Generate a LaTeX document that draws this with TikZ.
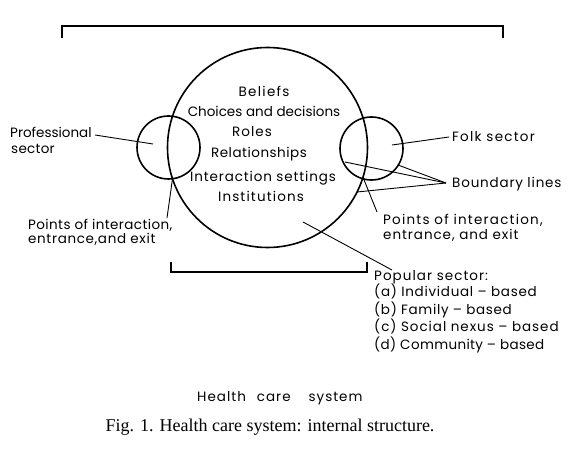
\documentclass[tikz,border=0pt]{standalone}
\usepackage{fontspec}
\setmainfont{Liberation Serif}
\newfontfamily\labfont{Poppins}
\begin{document}
\begin{tikzpicture}[x=1pt,y=-1pt,
  lab/.style={inner sep=0pt, font=\labfont\fontsize{13.5}{15}\selectfont\addfontfeature{LetterSpace=#1}},
  lab/.default=7,
  ring/.style={circle, draw, line width=1.6pt, inner sep=0pt},
  leader/.style={line width=0.9pt},
  brk/.style={line width=1.2pt}]
\useasboundingbox (0,0) rectangle (579,454);
% brackets
\coordinate (tl) at (62,38); \coordinate (tlc) at (62,26);
\coordinate (trc) at (503,26); \coordinate (tr) at (503,38);
\draw[brk] (tl) -- (tlc) -- (trc) -- (tr);
\coordinate (bl) at (171,262); \coordinate (blc) at (171,272);
\coordinate (brc) at (367,272); \coordinate (br) at (367,262);
\draw[brk] (bl) -- (blc) -- (brc) -- (br);
% circles
\node[ring, minimum size=200pt] (main) at (267.5,147.5) {};
\node[ring, minimum size=63pt] (prof) at (168.5,147.5) {};
\node[ring, minimum size=63pt] (folk) at (371.5,148.5) {};
% inner texts
\node[lab=9.6, anchor=base] (t1) at (264,97) {Beliefs};
\node[lab=0, anchor=base] (t2) at (264,117) {Choices and decisions};
\node[lab=8, anchor=base] (t3) at (252,137) {Roles};
\node[lab=3.7, anchor=base] (t4) at (259,158) {Relationships};
\node[lab=6.4, anchor=base] (t5) at (263,182) {Interaction settings};
\node[lab=8.4, anchor=base] (t6) at (261,202) {Institutions};
% left labels
\node[lab=0, anchor=base west] (pl1) at (10,138) {Professional};
\node[lab=2, anchor=base west] (pl2) at (11,154) {sector};
\node[lab=3, anchor=base west] (lp1) at (28,230) {Points of interaction,};
\node[lab=4.8, anchor=base west] (lp2) at (28,244) {entrance,and exit};
% right labels
\node[lab=9.2, anchor=base west] (fk) at (452,142) {Folk sector};
\node[lab=6.1, anchor=base west] (bd) at (452,188) {Boundary lines};
\node[lab=9, anchor=base west] (rp1) at (383,225) {Points of interaction,};
\node[lab=7, anchor=base west] (rp2) at (383,240) {entrance, and exit};
\node[lab=7.7, anchor=base west] (ps0) at (374,281) {Popular sector:};
\node[lab=5.3, anchor=base west] (ps1) at (374,297) {(a) Individual – based};
\node[lab=5, anchor=base west] (ps2) at (374,315) {(b) Family – based};
\node[lab=7, anchor=base west] (ps3) at (374,332) {(c) Social nexus – based};
\node[lab=2.6, anchor=base west] (ps4) at (374,350) {(d) Community – based};
% bottom texts
\node[lab=7.4, anchor=base west] (hcs) at (197,402) {Health\hspace{11pt}care\hspace{18pt}system};
\node[inner sep=0pt, anchor=base, font=\fontsize{18}{20}\selectfont] (cap) at (270,432) {Fig. 1. Health care system: internal structure.};
% leader coordinates
\coordinate (profA) at (95,135); \coordinate (profB) at (153,144);
\coordinate (lpA) at (167,218); \coordinate (lpB) at (172.5,178.7);
\coordinate (fkA) at (449,137); \coordinate (fkB) at (392,145);
\coordinate (bdA) at (446,183);
\coordinate (bd1) at (345,162); \coordinate (bd2) at (398,165); \coordinate (bd3) at (357,192);
\coordinate (rpA) at (377,212); \coordinate (rpB) at (363,177.3);
\coordinate (psA) at (392,270); \coordinate (psB) at (303,222);
\draw[leader] (profA) -- (profB);
\draw[leader] (lpA) -- (lpB);
\draw[leader] (fkA) -- (fkB);
\draw[leader] (bdA) -- (bd1);
\draw[leader] (bdA) -- (bd2);
\draw[leader] (bdA) -- (bd3);
\draw[leader] (rpA) -- (rpB);
\draw[leader] (psA) -- (psB);
\end{tikzpicture}
\end{document}
